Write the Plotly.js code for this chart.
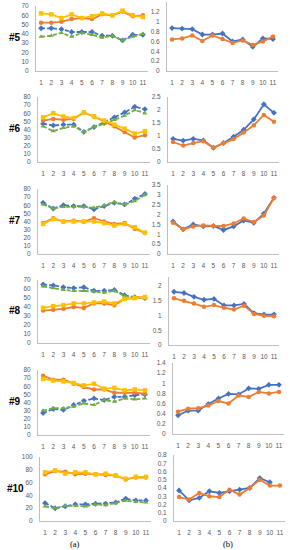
<!DOCTYPE html>
<html>
<head>
<meta charset="utf-8">
<script src="https://cdn.plot.ly/plotly-3.0.1.min.js"></script>
<style>html,body{margin:0;padding:0;background:#fff;}#chart{width:290px;height:550px;}</style>
</head>
<body>
<div id="chart"></div>
<script>
// x categories (tick labels)
const cats = [1,2,3,4,5,6,7,8,9,10,11];
const rowLabels = ['#5','#6','#7','#8','#9','#10'];

// (a) panels: blue dashed, green dashed, orange solid, yellow solid
const a5_blue   = [46,46,45,42,42,42,38,38,33,39,39];
const a5_green  = [37,38,41,37,41,39,36,38,33,37,40];
const a5_orange = [52,52,53,56,57,56,61,60,64,59,60];
const a5_yellow = [62,61,57,61,57,59,62,60,65,60,58];

const a6_blue   = [47,45,46,46,37,43,48,55,61,68,65];
const a6_green  = [44,38,42,44,37,43,47,52,57,64,60];
const a6_orange = [51,53,52,53,61,56,50,44,37,30,33];
const a6_yellow = [55,60,56,54,61,56,51,46,41,35,38];

const a7_blue   = [63,56,60,59,59,55,59,63,61,68,74];
const a7_green  = [61,56,58,58,58,57,60,64,61,65,73];
const a7_orange = [38,44,40,41,40,44,40,37,38,31,26];
const a7_yellow = [37,43,40,40,40,40,38,35,37,33,26];

const a8_blue   = [65,64,62,61,62,58,58,59,53,51,50];
const a8_green  = [63,61,59,58,58,57,56,58,52,51,49];
const a8_orange = [36,37,38,40,39,44,44,42,49,50,51];
const a8_yellow = [39,41,42,44,44,45,46,44,49,50,51];

const a9_blue   = [27,32,31,37,42,45,43,47,47,49,50];
const a9_green  = [30,33,33,35,39,37,43,41,45,44,45];
const a9_orange = [73,68,68,63,59,56,56,52,52,52,51];
const a9_yellow = [69,67,66,64,61,63,57,58,55,56,55];

const a10_blue   = [28,20,23,26,26,27,27,29,35,32,32];
const a10_green  = [23,20,24,24,23,26,25,28,32,30,29];
const a10_orange = [73,78,77,73,74,73,72,71,65,68,68];
const a10_yellow = [76,79,74,76,76,73,74,71,66,69,69];

// (b) panels: blue solid, orange solid
const b5_blue   = [0.87,0.86,0.85,0.74,0.74,0.76,0.60,0.64,0.49,0.66,0.65];
const b5_orange = [0.64,0.66,0.72,0.61,0.72,0.65,0.57,0.62,0.53,0.60,0.70];

const b6_blue   = [0.89,0.82,0.89,0.83,0.55,0.73,0.97,1.24,1.64,2.22,1.89];
const b6_orange = [0.77,0.63,0.73,0.80,0.55,0.73,0.88,1.13,1.41,1.81,1.55];

const b7_blue   = [1.65,1.25,1.50,1.40,1.42,1.22,1.40,1.70,1.58,2.05,2.85];
const b7_orange = [1.58,1.25,1.40,1.45,1.42,1.42,1.55,1.80,1.62,1.95,2.85];

const b8_blue   = [1.80,1.76,1.63,1.53,1.56,1.34,1.34,1.39,1.08,1.03,1.03];
const b8_orange = [1.58,1.50,1.40,1.29,1.35,1.26,1.20,1.33,1.05,0.99,0.97];

const b9_blue   = [0.37,0.46,0.46,0.59,0.70,0.79,0.78,0.90,0.89,0.97,0.97];
const b9_orange = [0.44,0.50,0.51,0.56,0.65,0.60,0.76,0.73,0.83,0.80,0.83];

const b10_blue   = [0.37,0.25,0.28,0.36,0.34,0.36,0.38,0.40,0.52,0.47,null];
const b10_orange = [0.29,0.26,0.34,0.30,0.29,0.38,0.32,0.40,0.50,0.43,0.43];

// y-axis scales
const aMax = [70,80,80,70,80,100];
const aStep = [10,10,10,10,10,20];
const bMax = [1.4,2.5,3.5,2.3,1.4,0.8];
const bTickTop = [1.2,2.5,3.5,2,1.4,0.8];
const bStep = [0.2,0.5,0.5,0.5,0.2,0.1];

const aSeries = [
  [a5_blue,a5_green,a5_orange,a5_yellow],
  [a6_blue,a6_green,a6_orange,a6_yellow],
  [a7_blue,a7_green,a7_orange,a7_yellow],
  [a8_blue,a8_green,a8_orange,a8_yellow],
  [a9_blue,a9_green,a9_orange,a9_yellow],
  [a10_blue,a10_green,a10_orange,a10_yellow]
];
const bSeries = [
  [b5_blue,b5_orange],[b6_blue,b6_orange],[b7_blue,b7_orange],
  [b8_blue,b8_orange],[b9_blue,b9_orange],[b10_blue,b10_orange]
];

// layout geometry (pixels)
const W = 290, H = 550;
const aY = [[6,71],[97,162],[189,254],[280,343],[370,435],[457,521]];
const bY = [[2,71],[97,162],[185,254],[277,345],[363,434],[455,521]];
const aX = [[36,148],[38,150],[38,150],[38,150],[38,150],[40,151]];
const bX = [[167,278],[168,279],[168,279],[169,279],[173,284],[174,285]];

const BLUE='#4472C4', ORANGE='#ED7D31', YELLOW='#FFC000', GREEN='#70AD47';
const tickFont = {family:'Liberation Sans, Arial, sans-serif', size:6.5, color:'#595959'};

function ticks(top, step){
  const v=[]; for(let t=0;t<=top+1e-9;t+=step) v.push(Math.round(t*100)/100); return v;
}

const traces = [];
const layout = {
  width:W, height:H, margin:{l:0,r:0,t:0,b:0},
  paper_bgcolor:'#fff', plot_bgcolor:'rgba(0,0,0,0)', showlegend:false,
  annotations:[], font:tickFont
};

function addAxis(idx, xd, yd, ymax, tickTop, step){
  const xs = idx===1?'xaxis':'xaxis'+idx, ys = idx===1?'yaxis':'yaxis'+idx;
  layout[xs] = {domain:[xd[0]/W, xd[1]/W], range:[0.5,11.5], tickvals:cats, ticktext:cats.map(String),
    showgrid:false, zeroline:false, showline:true, linecolor:'#BFBFBF', linewidth:1,
    ticks:'', tickfont:tickFont, anchor: idx===1?'y':'y'+idx, fixedrange:true, ticklabelstandoff:5};
  layout[ys] = {domain:[1-yd[1]/H, 1-yd[0]/H], range:[0,ymax], tickvals:ticks(tickTop,step),
    showgrid:false, zeroline:false, showline:true, linecolor:'#BFBFBF', linewidth:1,
    ticks:'', tickfont:tickFont, anchor: idx===1?'x':'x'+idx, fixedrange:true, ticklabelstandoff:5};
}

function line(idx, y, color, dash, sym){
  traces.push({x:cats, y:y, type:'scatter', mode:'lines+markers',
    xaxis: idx===1?'x':'x'+idx, yaxis: idx===1?'y':'y'+idx,
    line:{color:color, width:1.8, dash:dash}, marker:{color:color, size:4.5, symbol:sym},
    connectgaps:false, hoverinfo:'skip'});
}

let idx = 1;
for(let r=0;r<6;r++){
  addAxis(idx, aX[r], aY[r], aMax[r], aMax[r], aStep[r]);
  const s = aSeries[r];
  line(idx, s[0], BLUE, '4px,2px', 'diamond');
  line(idx, s[1], GREEN, '4px,2px', 'triangle-up');
  line(idx, s[2], ORANGE, 'solid', 'circle');
  line(idx, s[3], YELLOW, 'solid', 'square');
  layout.annotations.push({xref:'paper', yref:'paper', x:15/W, y:1-((aY[r][0]+aY[r][1])/2 - 1)/H,
    text:'<b>'+rowLabels[r]+'</b>', showarrow:false, xanchor:'center', yanchor:'middle',
    font:{family:'Liberation Sans, Arial, sans-serif', size:10, color:'#000'}});
  idx++;
  addAxis(idx, bX[r], bY[r], bMax[r], bTickTop[r], bStep[r]);
  const t = bSeries[r];
  line(idx, t[0], BLUE, 'solid', 'diamond');
  line(idx, t[1], ORANGE, 'solid', 'circle');
  idx++;
}
layout.annotations.push({xref:'paper', yref:'paper', x:75/W, y:1-544/H, text:'(a)', showarrow:false,
  xanchor:'center', yanchor:'middle', font:{family:'Liberation Serif, serif', size:8.5, color:'#000'}});
layout.annotations.push({xref:'paper', yref:'paper', x:228/W, y:1-544/H, text:'(b)', showarrow:false,
  xanchor:'center', yanchor:'middle', font:{family:'Liberation Serif, serif', size:8.5, color:'#000'}});

Plotly.newPlot('chart', traces, layout, {displayModeBar:false, staticPlot:true});
</script>
</body>
</html>
